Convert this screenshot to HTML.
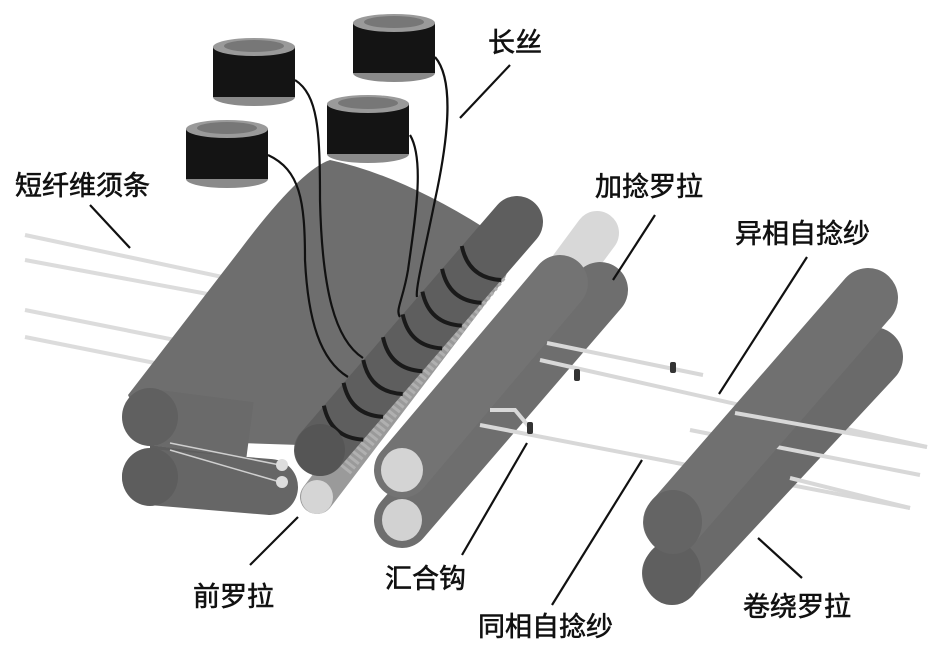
<!DOCTYPE html>
<html><head><meta charset="utf-8"><style>
body{margin:0;background:#fff}
svg text{font-family:"Liberation Sans","Noto Sans CJK SC",sans-serif;font-size:27px;fill:#111;stroke:#111;stroke-width:0.6}
</style></head><body>
<svg width="942" height="659" viewBox="0 0 942 659" xmlns="http://www.w3.org/2000/svg">
<rect width="942" height="659" fill="#fff"/>
<g stroke="#dcdcdc" stroke-width="4" fill="none">
<line x1="25" y1="235" x2="260" y2="285"/>
<line x1="25" y1="260" x2="240" y2="300"/>
<line x1="25" y1="310" x2="200" y2="345"/>
<line x1="25" y1="337" x2="190" y2="370"/>
</g>
<path d="M128,395 L240,250 Q300,170 330,160 Q400,175 483,227 L300,445 L150,440 Z" fill="#6e6e6e"/>
<path d="M150,445 L285,462 L230,505 L150,505 Z" fill="#5e5e5e"/>
<line x1="150" y1="477" x2="270" y2="487" stroke="#666" stroke-width="56" stroke-linecap="round"/>
<ellipse cx="150" cy="477" rx="28" ry="29" fill="#5d5d5d"/>
<line x1="150" y1="417" x2="250" y2="430" stroke="#6a6a6a" stroke-width="56"/>
<ellipse cx="150" cy="417" rx="28" ry="29" fill="#606060"/>
<line x1="170" y1="443" x2="280" y2="465" stroke="#cfcfcf" stroke-width="1.5"/>
<line x1="170" y1="450" x2="280" y2="482" stroke="#cfcfcf" stroke-width="1.5"/>
<circle cx="282" cy="465" r="6" fill="#ddd"/>
<circle cx="282" cy="482" r="6" fill="#ddd"/>
<line x1="317" y1="497" x2="490" y2="270" stroke="#9a9a9a" stroke-width="34" stroke-linecap="round"/>
<ellipse cx="317" cy="497" rx="16" ry="17" fill="#d5d5d5"/>
<line x1="345" y1="470" x2="500" y2="275" stroke="#b0b0b0" stroke-width="14" stroke-dasharray="3 3"/>
<line x1="320" y1="450" x2="517" y2="222" stroke="#5e5e5e" stroke-width="52" stroke-linecap="round"/>
<g stroke="#1a1a1a" stroke-width="4" fill="none">
<path d="M323.9,405.6 Q330.6,437.8 363.3,439.6"/>
<path d="M343.6,382.8 Q350.3,415.0 383.0,416.8"/>
<path d="M363.3,360.0 Q370.0,392.2 402.7,394.0"/>
<path d="M383.0,337.2 Q389.7,369.4 422.4,371.2"/>
<path d="M402.7,314.4 Q409.4,346.6 442.1,348.4"/>
<path d="M422.4,291.6 Q429.1,323.8 461.8,325.6"/>
<path d="M442.1,268.8 Q448.8,301.0 481.5,302.8"/>
<path d="M461.8,246.0 Q468.5,278.2 501.2,280.0"/>
</g>
<ellipse cx="320" cy="450" rx="25" ry="26" fill="#555"/>
<g stroke="#111" stroke-width="2.2" fill="none">
<path d="M268,155 C300,170 305,200 305,260 C308,320 320,360 348,377"/>
<path d="M295,80 C318,95 320,130 320,200 C322,290 335,340 363,358"/>
<path d="M410,135 C425,160 415,220 408,270 C403,300 395,310 400,317"/>
<path d="M435,57 C455,80 448,140 435,200 C425,250 415,290 417,297"/>
</g>
<g>
<g transform="translate(254,0)"><ellipse cx="0" cy="97" rx="41" ry="9" fill="#8a8a8a"/><rect x="-41" y="47" width="82" height="50" fill="#141414"/><ellipse cx="0" cy="47" rx="41" ry="9" fill="#9a9a9a"/><ellipse cx="0" cy="46" rx="30" ry="6" fill="#777"/></g>
<g transform="translate(394,-24)"><ellipse cx="0" cy="97" rx="41" ry="9" fill="#8a8a8a"/><rect x="-41" y="47" width="82" height="50" fill="#141414"/><ellipse cx="0" cy="47" rx="41" ry="9" fill="#9a9a9a"/><ellipse cx="0" cy="46" rx="30" ry="6" fill="#777"/></g>
<g transform="translate(368,57)"><ellipse cx="0" cy="97" rx="41" ry="9" fill="#8a8a8a"/><rect x="-41" y="47" width="82" height="50" fill="#141414"/><ellipse cx="0" cy="47" rx="41" ry="9" fill="#9a9a9a"/><ellipse cx="0" cy="46" rx="30" ry="6" fill="#777"/></g>
<g transform="translate(227,82)"><ellipse cx="0" cy="97" rx="41" ry="9" fill="#8a8a8a"/><rect x="-41" y="47" width="82" height="50" fill="#141414"/><ellipse cx="0" cy="47" rx="41" ry="9" fill="#9a9a9a"/><ellipse cx="0" cy="46" rx="30" ry="6" fill="#777"/></g>
</g>
<line x1="560" y1="283" x2="597" y2="233" stroke="#d8d8d8" stroke-width="44" stroke-linecap="round"/>
<line x1="402" y1="520" x2="600" y2="290" stroke="#6e6e6e" stroke-width="56" stroke-linecap="round"/>
<ellipse cx="402" cy="520" rx="20" ry="21" fill="#d2d2d2"/>
<line x1="402" y1="470" x2="560" y2="283" stroke="#737373" stroke-width="56" stroke-linecap="round"/>
<ellipse cx="402" cy="470" rx="21" ry="22" fill="#d4d4d4"/>
<g stroke="#d8d8d8" stroke-width="4" fill="none">
<line x1="547" y1="343" x2="703" y2="375"/>
<line x1="540" y1="360" x2="927" y2="447"/>
<line x1="480" y1="425" x2="910" y2="508"/>
<path d="M490,410 L515,410 L530,428"/>
</g>
<g fill="#333"><rect x="670" y="362" width="6" height="11" rx="2"/><rect x="574" y="369" width="6" height="12" rx="2"/><rect x="527" y="422" width="6" height="12" rx="2"/></g>
<line x1="672" y1="573" x2="873" y2="357" stroke="#6a6a6a" stroke-width="60" stroke-linecap="round"/>
<ellipse cx="672" cy="573" rx="29" ry="32" fill="#5f5f5f"/>
<line x1="690" y1="430" x2="920" y2="475" stroke="#d8d8d8" stroke-width="4"/>
<line x1="673" y1="522" x2="868" y2="298" stroke="#707070" stroke-width="60" stroke-linecap="round"/>
<ellipse cx="673" cy="522" rx="29" ry="32" fill="#646464"/>
<line x1="735" y1="413" x2="927" y2="447" stroke="#d8d8d8" stroke-width="4"/>
<line x1="790" y1="478" x2="910" y2="508" stroke="#d8d8d8" stroke-width="4"/>
<g stroke="#111" stroke-width="2.2">
<line x1="510" y1="65" x2="460" y2="118"/>
<line x1="90" y1="205" x2="130" y2="248"/>
<line x1="655" y1="215" x2="613" y2="280"/>
<line x1="807" y1="257" x2="719" y2="394"/>
<line x1="298" y1="517" x2="250" y2="565"/>
<line x1="527" y1="443" x2="462" y2="555"/>
<line x1="642" y1="460" x2="552" y2="605"/>
<line x1="758" y1="538" x2="802" y2="578"/>
</g>
<text x="488" y="52">长丝</text>
<text x="15" y="195">短纤维须条</text>
<text x="595" y="196">加捻罗拉</text>
<text x="735" y="243">异相自捻纱</text>
<text x="193" y="606">前罗拉</text>
<text x="385" y="588">汇合钩</text>
<text x="478" y="636">同相自捻纱</text>
<text x="743" y="616">卷绕罗拉</text>
</svg>
</body></html>
